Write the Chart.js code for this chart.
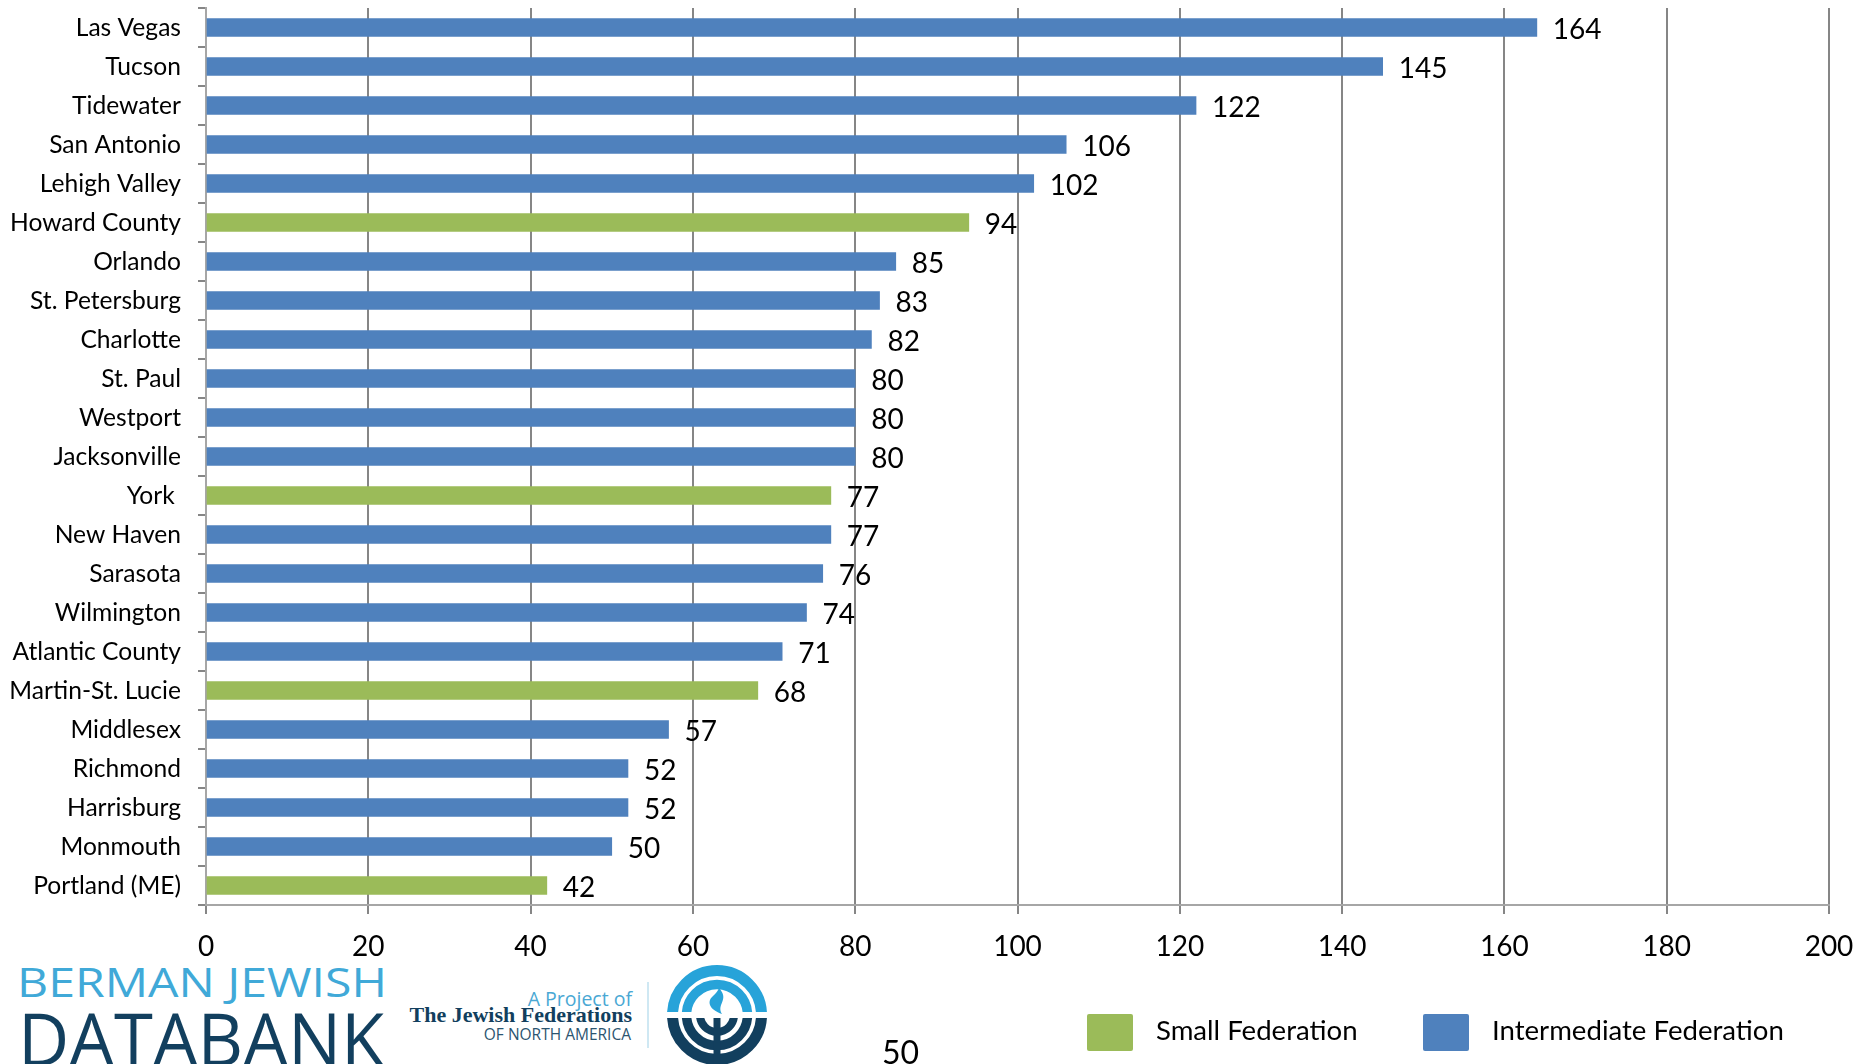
<!DOCTYPE html>
<html>
<head>
<meta charset="utf-8">
<title>Federations chart</title>
<script src="https://cdn.jsdelivr.net/npm/chart.js@4"></script>
<style>
  html, body { margin: 0; padding: 0; background: #fff; overflow: hidden; }
  #wrap { position: relative; width: 1862px; height: 1064px; overflow: hidden; }
  canvas { position: absolute; left: 0; top: 0; }
  .t { position: absolute; white-space: nowrap; line-height: 1; }
  .legend-box { position: absolute; width: 46px; height: 37px; top: 1014px; border-radius: 2px; }
  .legend-text { font: 27.6px Lato, sans-serif; color: #000; top: 1013px; }
</style>
</head>
<body>
<div id="wrap">
  <div class="t" style="left:17px;top:954px;font:400 40px 'Open Sans',sans-serif;color:#40a9d8;transform-origin:0 0;transform:scaleX(1.205);">BERMAN JEWISH</div>
  <div class="t" style="left:18px;top:987px;font:400 74px 'Open Sans',sans-serif;color:#123f5e;transform-origin:0 0;transform:scaleX(0.955);">DATABANK</div>
  <div class="t" style="right:1230px;top:985px;font:500 19.5px 'Open Sans',sans-serif;color:#4aa8d4;">A Project of</div>
  <div class="t" style="right:1230px;top:1002px;font:bold 22px 'Liberation Serif',serif;color:#123f5e;">The Jewish Federations</div>
  <div class="t" style="right:1231px;top:1023px;font:500 15.5px 'Open Sans',sans-serif;color:#2c5570;">OF NORTH AMERICA</div>
  <svg style="position:absolute;left:640px;top:950px" width="140" height="114" viewBox="640 950 140 114">
    <defs>
      <clipPath id="upper"><rect x="660" y="955" width="115" height="57"/></clipPath>
      <clipPath id="lower"><rect x="660" y="1018" width="115" height="50"/></clipPath>
    </defs>
    <line x1="648" y1="982" x2="648" y2="1048" stroke="#bfe0ef" stroke-width="1.5"/>
    <g clip-path="url(#upper)" fill="none" stroke="#27a3d9">
      <circle cx="717" cy="1015" r="44.5" stroke-width="11"/>
      <circle cx="717" cy="1015" r="30.5" stroke-width="9.5"/>
    </g>
    <path d="M719 988 C730 1000 716 1004 722 1014 C710 1010 706 1002 713 996 C716 993 718 991 719 988 Z" fill="#27a3d9"/>
    <g clip-path="url(#lower)" fill="none" stroke="#123f5e">
      <circle cx="717" cy="1015" r="44.5" stroke-width="11"/>
      <circle cx="717" cy="1015" r="30.5" stroke-width="9.5"/>
      <circle cx="717" cy="1015" r="17" stroke-width="8"/>
      <line x1="717" y1="1015" x2="717" y2="1064" stroke-width="7"/>
    </g>
  </svg>
  <canvas id="myChart" width="1862" height="1064"></canvas>
  <div class="t" style="left:882px;top:1032px;font:32px Lato,sans-serif;color:#000;">50</div>
  <div class="legend-box" id="smallBox" style="left:1087px;"></div>
  <div class="t legend-text" id="smallText" style="left:1156px;"></div>
  <div class="legend-box" id="interBox" style="left:1423px;"></div>
  <div class="t legend-text" id="interText" style="left:1492px;"></div>
</div>
<script>
const categories = ['Las Vegas', 'Tucson', 'Tidewater', 'San Antonio', 'Lehigh Valley', 'Howard County', 'Orlando',
    'St. Petersburg', 'Charlotte', 'St. Paul', 'Westport', 'Jacksonville', 'York ', 'New Haven', 'Sarasota',
    'Wilmington', 'Atlantic County', 'Martin-St. Lucie', 'Middlesex', 'Richmond', 'Harrisburg', 'Monmouth', 'Portland (ME)'];
const smallValues = [null, null, null, null, null, 94, null, null, null, null, null, null, 77, null, null, null, null, 68, null, null, null, null, 42];
const intermediateValues = [164, 145, 122, 106, 102, null, 85, 83, 82, 80, 80, 80, null, 77, 76, 74, 71, null, 57, 52, 52, 50, null];
const seriesNames = ['Small Federation', 'Intermediate Federation'];
const seriesColors = ['#9bbb59', '#4f81bd'];

document.getElementById('smallBox').style.background = seriesColors[0];
document.getElementById('interBox').style.background = seriesColors[1];
document.getElementById('smallText').textContent = seriesNames[0];
document.getElementById('interText').textContent = seriesNames[1];

// value labels at the end of each bar
const barLabels = {
    id: 'barLabels',
    afterDatasetsDraw(chart) {
        const c = chart.ctx;
        c.save();
        c.font = '28px Lato';
        c.fillStyle = '#000';
        c.textAlign = 'left';
        c.textBaseline = 'middle';
        chart.data.datasets.forEach((ds, i) => {
            chart.getDatasetMeta(i).data.forEach((bar, j) => {
                if (ds.data[j] == null) return;
                c.fillText(ds.data[j], bar.x + 16, bar.y + 2);
            });
        });
        c.restore();
    }
};

// category names sit a pixel lower than chart.js centres them
const nudgeLabels = {
    id: 'nudgeLabels',
    beforeDraw(chart) {
        if (chart.$nudged) return;
        chart.scales.y.getLabelItems().forEach(item => { item.options.translation[1] += 1; });
        chart.$nudged = true;
    }
};

// keep the plot box fixed, labels are not allowed to push it in
function noScalePadding(scale) {
    scale.paddingTop = 0;
    scale.paddingBottom = 0;
    scale.paddingLeft = 0;
    scale.paddingRight = 0;
}

const ctx = document.getElementById('myChart').getContext('2d');
const myChart = new Chart(ctx, {
    type: 'bar',
    data: {
        labels: categories,
        datasets: [
            { label: seriesNames[0], data: smallValues, backgroundColor: seriesColors[0], barThickness: 18 },
            { label: seriesNames[1], data: intermediateValues, backgroundColor: seriesColors[1], barThickness: 18 }
        ]
    },
    options: {
        indexAxis: 'y',
        responsive: false,
        animation: false,
        layout: { padding: { top: 8, right: 33, left: 0, bottom: 0 } },
        plugins: { legend: { display: false }, tooltip: { enabled: false } },
        scales: {
            x: {
                min: 0,
                max: 200,
                stacked: true,
                afterFit(scale) { scale.height = 159; noScalePadding(scale); },
                ticks: { stepSize: 20, maxRotation: 0, padding: 16, color: '#000', font: { family: 'Lato', size: 28 } },
                grid: { color: '#868686', lineWidth: 2, tickLength: 9, tickColor: '#868686' },
                border: { color: '#a6a6a6', width: 2 }
            },
            y: {
                stacked: true,
                afterFit(scale) { scale.width = 206; noScalePadding(scale); },
                ticks: { autoSkip: false, padding: 17, color: '#000', font: { family: 'Lato', size: 24.6 } },
                grid: { drawOnChartArea: false, tickLength: 8, tickColor: '#868686', lineWidth: 2 },
                border: { color: '#a6a6a6', width: 2 }
            }
        }
    },
    plugins: [barLabels, nudgeLabels]
});
</script>
</body>
</html>
